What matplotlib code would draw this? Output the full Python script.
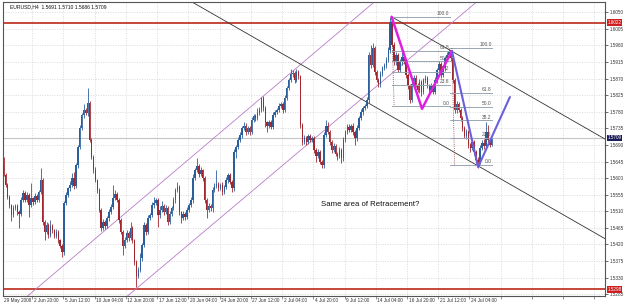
import matplotlib
matplotlib.use("Agg")
import matplotlib.pyplot as plt
import matplotlib.transforms as mtransforms
import numpy as np

plt.rcParams['font.family'] = ['Liberation Sans', 'DejaVu Sans']

# EURUSD H4 candles, prices in points (1.5609 -> 15609)
first_open_pts = 15636
close_pts = [
    15609, 15582, 15549, 15527, 15500, 15519, 15525, 15508, 15503, 15541,
    15560, 15541, 15554, 15527, 15546, 15535, 15552, 15541, 15562, 15595,
    15481, 15454, 15473, 15446, 15470, 15459, 15443, 15454, 15432, 15416,
    15400, 15533, 15554, 15573, 15582, 15601, 15579, 15636, 15685, 15736,
    15771, 15785, 15777, 15804, 15704, 15657, 15622, 15595, 15568, 15514,
    15465, 15481, 15470, 15492, 15508, 15522, 15546, 15557, 15541, 15487,
    15454, 15416, 15432, 15451, 15438, 15465, 15432, 15373, 15335, 15351,
    15383, 15419, 15473, 15454, 15492, 15500, 15527, 15533, 15541, 15500,
    15514, 15525, 15508, 15519, 15481, 15503, 15519, 15541, 15568, 15576,
    15508, 15492, 15503, 15495, 15514, 15527, 15541, 15601, 15622, 15633,
    15611, 15622, 15601, 15541, 15514, 15525, 15519, 15568, 15579, 15584,
    15573, 15582, 15562, 15576, 15595, 15609, 15590, 15573, 15671, 15685,
    15704, 15717, 15736, 15742, 15725, 15736, 15725, 15758, 15769, 15763,
    15777, 15785, 15818, 15790, 15752, 15742, 15752, 15739, 15771, 15780,
    15785, 15796, 15801, 15785, 15818, 15845, 15866, 15883, 15885, 15866,
    15888, 15877, 15744, 15698, 15709, 15698, 15714, 15704, 15709, 15676,
    15660, 15671, 15644, 15636, 15717, 15742, 15725, 15698, 15676, 15687,
    15666, 15660, 15676, 15655, 15704, 15725, 15739, 15731, 15742, 15725,
    15709, 15736, 15763, 15780, 15790, 15796, 15812, 15934, 15907, 15953,
    15888, 15866, 15856, 15883, 15899, 15907, 15921, 15948, 16024, 15961,
    15915, 15934, 15893, 15915, 15929, 15915, 15880, 15850, 15812, 15856,
    15872, 15853, 15839, 15861, 15834, 15866, 15872, 15850, 15839, 15850,
    15834, 15866, 15893, 15910, 15880, 15899, 15926, 15934, 15942, 15926,
    15866, 15785, 15801, 15785, 15763, 15736, 15714, 15725, 15690, 15682,
    15698, 15671, 15649, 15644, 15682, 15695, 15687, 15725, 15704, 15691,
    15709,
]
upper_wick = [
    22, 5, 4, 6, 3, 8, 5, 4, 6, 7,
    8, 5, 9, 6, 40, 4, 7, 5, 6, 32,
    6, 4, 7, 5, 16, 6, 4, 8, 5, 3,
    5, 6, 7, 4, 9, 14, 16, 5, 6, 8,
    7, 16, 5, 40, 6, 4, 5, 7, 3, 6,
    5, 8, 4, 6, 7, 9, 35, 12, 6, 5,
    4, 6, 8, 7, 5, 16, 6, 4, 5, 7,
    14, 6, 8, 5, 7, 6, 9, 16, 5, 6,
    10, 12, 6, 8, 5, 7, 6, 8, 5, 14,
    6, 4, 7, 5, 8, 6, 7, 9, 6, 22,
    5, 7, 4, 6, 5, 8, 6, 9, 7, 38,
    6, 5, 8, 6, 7, 5, 6, 4, 7, 6,
    8, 8, 6, 9, 7, 5, 6, 8, 6, 5,
    14, 7, 3, 6, 5, 4, 7, 6, 8, 5,
    6, 7, 5, 6, 8, 6, 7, 14, 9, 6,
    7, 5, 4, 6, 8, 5, 7, 6, 5, 4,
    6, 7, 5, 6, 8, 16, 9, 5, 6, 7,
    5, 6, 8, 5, 7, 6, 9, 8, 6, 7,
    5, 8, 6, 7, 5, 6, 8, 9, 27, 14,
    6, 5, 7, 8, 6, 5, 7, 9, 14, 6,
    8, 7, 6, 9, 14, 5, 6, 4, 5, 8,
    7, 9, 6, 8, 5, 7, 8, 6, 5, 7,
    6, 8, 7, 9, 5, 8, 6, 7, 11, 6,
    5, 6, 8, 5, 4, 6, 5, 7, 6, 5,
    8, 6, 5, 7, 9, 8, 12, 27, 20, 6,
    1,
]
lower_wick = [
    4, 6, 5, 7, 16, 6, 5, 8, 38, 6,
    5, 7, 6, 32, 5, 8, 6, 7, 5, 6,
    9, 22, 6, 8, 5, 7, 6, 5, 8, 6,
    14, 9, 6, 5, 7, 6, 8, 7, 9, 6,
    5, 7, 6, 8, 6, 5, 7, 6, 8, 6,
    9, 6, 7, 5, 8, 6, 7, 5, 6, 8,
    7, 24, 6, 5, 8, 6, 7, 9, 30, 6,
    7, 8, 6, 9, 5, 7, 6, 8, 6, 32,
    7, 6, 8, 5, 9, 6, 7, 5, 8, 6,
    7, 14, 6, 8, 5, 7, 6, 9, 6, 5,
    7, 6, 8, 9, 22, 6, 7, 12, 6, 5,
    7, 6, 8, 5, 6, 7, 6, 11, 8, 16,
    6, 5, 7, 6, 8, 5, 7, 6, 5, 8,
    6, 7, 5, 8, 14, 16, 6, 7, 5, 6,
    7, 5, 6, 8, 6, 7, 5, 6, 8, 7,
    6, 8, 9, 7, 5, 8, 6, 7, 5, 8,
    16, 6, 7, 8, 9, 6, 5, 7, 8, 6,
    7, 11, 6, 14, 8, 5, 6, 7, 6, 8,
    19, 7, 6, 5, 8, 6, 7, 9, 8, 6,
    7, 6, 8, 9, 5, 6, 7, 5, 8, 6,
    7, 8, 6, 5, 7, 6, 8, 9, 8, 6,
    5, 7, 6, 8, 11, 6, 7, 5, 8, 6,
    7, 6, 8, 5, 7, 6, 8, 5, 6, 7,
    8, 9, 7, 6, 8, 7, 6, 8, 7, 11,
    6, 8, 7, 16, 6, 7, 8, 6, 10, 6,
    5,
]

time_labels = ["2 Jun 20:00", "5 Jun 12:00", "10 Jun 04:00", "12 Jun 20:00",
               "17 Jun 12:00", "20 Jun 04:00", "24 Jun 20:00", "27 Jun 12:00",
               "2 Jul 04:00", "4 Jul 20:00", "9 Jul 12:00", "14 Jul 04:00",
               "16 Jul 20:00", "21 Jul 12:00", "24 Jul 04:00"]
price_ticks = [1.5285 + 0.0045 * k for k in range(18)]

# drawn objects (bar index, price)
red_levels = [1.6022, 1.5298]
last_price = 1.5709
fib_levels = [0.0, 23.6, 38.2, 50.0, 61.8, 100.0]
fib1 = dict(x0=198.7, x1=228.6, lo=1.5795, hi=1.6038, a0=198.7, a1=200.0)
fib2 = dict(x0=228.6, x1=250.3, lo=1.5635, hi=1.5953, a0=229.6, a1=231.0)
zig_magenta = ([198.7, 214.3, 229.6], [1.6038, 1.5788, 1.5945])
zig_blue = ([229.6, 243.0, 259.3], [1.5945, 1.5630, 1.5820])
purple_up = ((16.1, 1.5297), (151.8, 1.5907))
purple_lo = ((67.3, 1.5297), (237.3, 1.6056))
black_lo = ((148.2, 1.5921), (244.0, 1.5630))
black_up_start = (198.7, 1.6038)

close = np.array(close_pts) / 10000
open_ = np.concatenate([[first_open_pts / 10000], close[:-1]])
high = np.maximum(open_, close) + np.array(upper_wick) / 10000
low = np.minimum(open_, close) - np.array(lower_wick) / 10000
x = np.arange(len(close))

fig = plt.figure(figsize=(6.25, 3.07), dpi=100)
ax = fig.add_axes([3 / 625, 11 / 307, 602 / 625, 294 / 307])
ax.set_xlim(-0.3, 308.0)
ax.set_ylim(1.5280, 1.6078)

# grid
grid_x = [-1.4 + 16 * k for k in range(1, 20)]
ax.set_xticks(grid_x)
ax.set_xticklabels([])
ax.set_yticks(price_ticks)
ax.set_yticklabels(["%.4f" % p for p in price_ticks])
ax.yaxis.tick_right()
ax.tick_params(axis='y', labelsize=3.3, length=2, pad=1.2, colors='#333333', width=0.5)
ax.tick_params(axis='x', length=2, width=0.5, colors='#666666')
ax.grid(True, linestyle=(0, (1.5, 2)), color='#cfcfcf', linewidth=0.5)
ax.set_axisbelow(True)
for s in ax.spines.values():
    s.set_color('#555555')
    s.set_linewidth(0.8)

trans = mtransforms.blended_transform_factory(ax.transData, ax.transAxes)
ax.text(0, -0.008, "29 May 2008", transform=trans, fontsize=3.4, ha='left', va='top', color='#333333')
for gx, lab in zip(grid_x, time_labels):
    ax.text(gx + 0.8, -0.008, lab, transform=trans, fontsize=3.4, ha='left', va='top', color='#333333')

# level lines
ax.axhline(last_price, color='#c4c4c4', lw=0.8, zorder=1)
for lv in red_levels:
    ax.axhline(lv, color='#c0392b', lw=1.3, zorder=2)

# channels
for (p0, p1) in [purple_up, purple_lo]:
    ax.axline(p0, p1, color='#b97cc8', lw=0.6, zorder=2)
ax.axline(black_lo[0], black_lo[1], color='#333333', lw=0.6, zorder=2)
slope = (black_lo[1][1] - black_lo[0][1]) / (black_lo[1][0] - black_lo[0][0])
bx = [black_up_start[0], 330]
ax.plot(bx, [black_up_start[1], black_up_start[1] + slope * (330 - black_up_start[0])],
        color='#333333', lw=0.6, zorder=2)

# candles
up = close >= open_
for mask, col in [(up, '#2b5f9c'), (~up, '#a3262e')]:
    ax.vlines(x[mask], low[mask], high[mask], color=col, lw=0.6, zorder=3)
    body = np.maximum(np.abs(close - open_), 0.00008)
    ax.bar(x[mask], body[mask], bottom=np.minimum(open_, close)[mask], width=0.75,
           color=col, linewidth=0, zorder=3)

# fibonacci retracements
for f in [fib1, fib2]:
    for lv in fib_levels:
        p = f['lo'] + (f['hi'] - f['lo']) * lv / 100
        ax.plot([f['x0'], f['x1']], [p, p], color='#9aa6b3', lw=0.7, zorder=4)
        ax.text(f['x1'] - 0.3, p + 0.0002, "%.1f" % lv, fontsize=3.5, color='#555555',
                ha='right', va='bottom', zorder=5)
    ax.plot([f['a0'], f['a1']], [f['hi'], f['lo']], color='#8b3a3a', lw=0.6,
            linestyle=(0, (1, 1.5)), zorder=4)

# zigzags
ax.plot(*zig_magenta, color='#e01ee0', lw=1.8, zorder=6, solid_capstyle='round')
ax.plot(*zig_blue, color='#6a5fdc', lw=1.5, zorder=6, solid_capstyle='round')

ax.text(187.7, 1.5527, "Same area of Retracement?", fontsize=5.6, ha='center', va='center',
        color='#111111', zorder=6)
ax.text(0.012, 0.993, "EURUSD,H4  1.5691 1.5710 1.5686 1.5709", transform=ax.transAxes,
        fontsize=3.6, ha='left', va='top', color='#111111')

# price labels on the right edge
ytr = mtransforms.blended_transform_factory(ax.transAxes, ax.transData)
for lv, bg in [(red_levels[0], '#cc2020'), (red_levels[1], '#cc2020'), (last_price, '#1c1c5a')]:
    ax.text(1.004, lv, "%.4f" % lv, transform=ytr, fontsize=3.3, color='white', ha='left',
            va='center', zorder=10, clip_on=False,
            bbox=dict(boxstyle='square,pad=0.15', fc=bg, ec='none'))

fig.savefig("out.png", dpi=100)
